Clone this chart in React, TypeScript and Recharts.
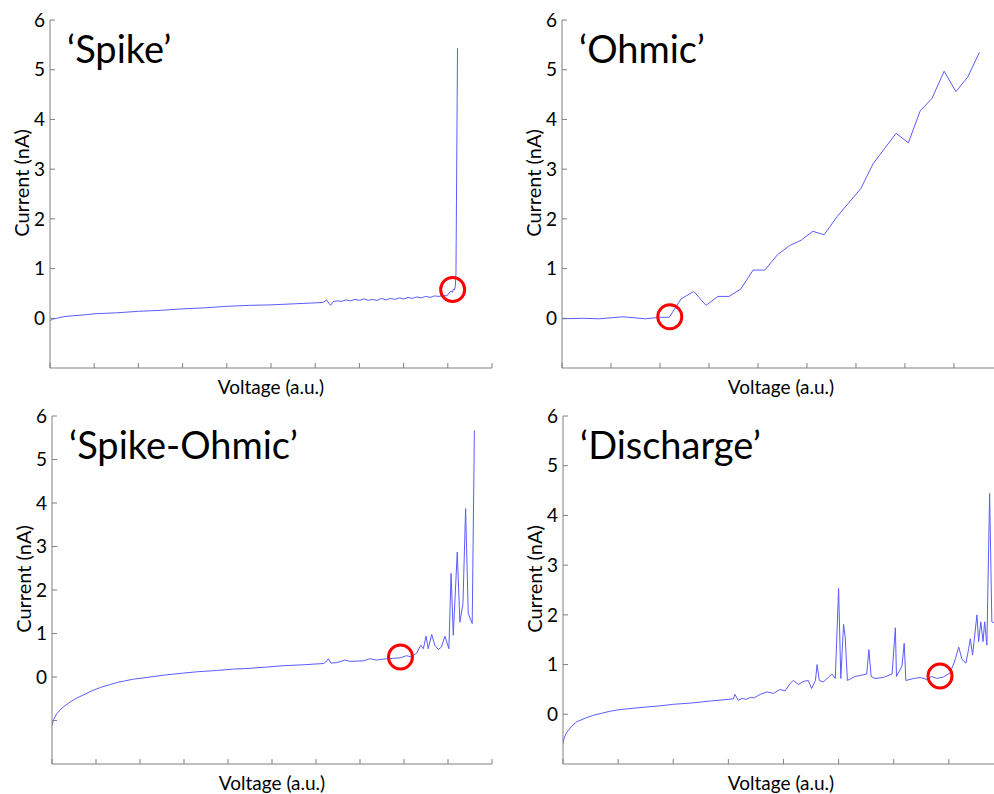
import { LineChart, Line, XAxis, YAxis, ReferenceDot, Label } from 'recharts';

const FRAME = '#808080';
const TRACE = '#5c5cff';
const FONT = 'Lato, "Open Sans", sans-serif';

// 'Spike'
const spikeX = [0, 0.05, 0.15, 0.3, 0.5, 0.8, 1.0, 1.5, 2.0, 2.5, 3.0, 3.5, 4.0, 4.5, 5.0, 5.5, 6.0, 6.18, 6.26, 6.31, 6.35, 6.41,
  6.5, 6.6, 6.7, 6.8, 6.9, 7.0, 7.1, 7.2, 7.3, 7.4, 7.5, 7.6, 7.7, 7.8, 7.9, 8.0, 8.1, 8.2, 8.3, 8.4, 8.5, 8.6, 8.7, 8.8, 8.9,
  8.98, 9.03, 9.07, 9.1, 9.13, 9.15, 9.17, 9.185, 9.22];
const spikeY = [-0.05, -0.02, 0.0, 0.03, 0.05, 0.07, 0.09, 0.11, 0.14, 0.16, 0.19, 0.21, 0.24, 0.26, 0.27, 0.29, 0.31, 0.32, 0.37, 0.30, 0.26, 0.34,
  0.35, 0.34, 0.37, 0.35, 0.38, 0.36, 0.39, 0.36, 0.38, 0.36, 0.40, 0.37, 0.40, 0.38, 0.41, 0.39, 0.42, 0.40, 0.43, 0.41, 0.44, 0.42, 0.45, 0.44, 0.46,
  0.45, 0.51, 0.55, 0.52, 0.59, 0.57, 0.64, 0.9, 5.43];

// 'Ohmic'
const ohmicX = [0, 0.42, 0.76, 1.24, 1.71, 1.99, 2.19, 2.43, 2.69, 2.94, 3.18, 3.41, 3.65, 3.90, 4.14, 4.40, 4.64, 4.88, 5.12, 5.35,
  5.61, 5.85, 6.10, 6.35, 6.58, 6.82, 7.07, 7.31, 7.55, 7.80, 8.04, 8.28, 8.52];
const ohmicY = [-0.01, 0.0, -0.01, 0.03, -0.01, 0.02, 0.02, 0.39, 0.54, 0.26, 0.44, 0.44, 0.59, 0.97, 0.97, 1.28, 1.46, 1.57, 1.75, 1.68,
  2.04, 2.32, 2.61, 3.11, 3.41, 3.72, 3.53, 4.17, 4.42, 4.97, 4.56, 4.85, 5.35];

// 'Spike-Ohmic'
const spikeOhmicX = [0, 0.04, 0.11, 0.2, 0.32, 0.42, 0.55, 0.72, 0.9, 1.10, 1.3, 1.47, 1.65, 1.85, 2.23, 2.6, 2.99, 3.3, 3.74, 4.1, 4.50,
  4.9, 5.26, 5.7, 6.17, 6.22, 6.28, 6.34,
  6.47, 6.66, 6.77, 7.07, 7.22, 7.37, 7.60, 7.91, 8.06, 8.17, 8.29, 8.38, 8.44, 8.50, 8.55, 8.63,
  8.70, 8.78, 8.85, 8.93, 9.02, 9.07, 9.12, 9.21, 9.27, 9.34, 9.40, 9.46, 9.55, 9.60];
const spikeOhmicY = [-1.11, -0.97, -0.84, -0.74, -0.64, -0.57, -0.49, -0.41, -0.32, -0.24, -0.18, -0.13, -0.09, -0.05, 0.0, 0.05, 0.09, 0.12, 0.15, 0.18, 0.20,
  0.23, 0.26, 0.28, 0.31, 0.34, 0.42, 0.32,
  0.33, 0.39, 0.36, 0.37, 0.42, 0.39, 0.42, 0.44, 0.49, 0.46, 0.55, 0.73, 0.65, 0.94, 0.65, 0.98,
  0.73, 0.63, 0.69, 0.94, 0.65, 2.38, 0.96, 2.87, 1.26, 1.69, 3.87, 1.46, 1.23, 5.67];

// 'Discharge'
const dischargeX = [0, 0.02, 0.07, 0.15, 0.25, 0.4, 0.55, 0.7, 0.85, 1.0, 1.16, 1.45, 1.76, 2.0, 2.36, 2.7, 3.09, 3.12, 3.18, 3.25, 3.32, 3.40, 3.47, 3.53, 3.58, 3.70, 3.82, 3.94,
  4.03, 4.12, 4.18, 4.27, 4.36, 4.45, 4.51, 4.58, 4.61, 4.65, 4.72, 4.88, 4.94, 5.00, 5.04, 5.09, 5.12, 5.16, 5.30, 5.51,
  5.55, 5.59, 5.66, 5.81, 5.97, 6.03, 6.05, 6.15, 6.19, 6.22, 6.36, 6.48, 6.60, 6.69, 6.78, 6.90, 7.02, 7.10, 7.18, 7.24,
  7.31, 7.36, 7.39, 7.43, 7.51, 7.54, 7.58, 7.62, 7.65, 7.69, 7.74, 7.78, 7.84, 7.91];
const dischargeY = [-0.59, -0.48, -0.36, -0.25, -0.15, -0.08, -0.02, 0.02, 0.06, 0.09, 0.11, 0.14, 0.17, 0.2, 0.23, 0.27, 0.31, 0.40, 0.28, 0.32, 0.30, 0.34, 0.33, 0.37, 0.40, 0.45, 0.42, 0.50,
  0.47, 0.62, 0.68, 0.60, 0.66, 0.68, 0.52, 0.68, 1.00, 0.68, 0.65, 0.81, 0.72, 2.53, 0.72, 1.81, 1.55, 0.68, 0.76, 0.81,
  1.30, 0.76, 0.72, 0.74, 0.81, 1.74, 0.76, 0.97, 1.43, 0.68, 0.72, 0.74, 0.70, 0.76, 0.72, 0.75, 0.83, 1.05, 1.35, 1.10,
  1.03, 1.32, 1.52, 1.19, 2.00, 1.46, 1.86, 1.46, 1.86, 1.39, 4.44, 1.86, 1.83, 1.80];

// onset markers (red circles)
const onsetSpike = { x: 9.11, y: 0.58 };
const onsetOhmic = { x: 2.2, y: 0.03 };
const onsetSpikeOhmic = { x: 7.92, y: 0.46 };
const onsetDischarge = { x: 6.84, y: 0.77 };

const ticks10 = [0, 1, 2, 3, 4, 5, 6, 7, 8, 9, 10];
const ticks8 = [0, 1, 2, 3, 4, 5, 6, 7, 8];
const ticks7 = [0, 1, 2, 3, 4, 5, 6, 7];
const yTicksTop = [0, 1, 2, 3, 4, 5, 6];
const yTicksBottomLeft = [-1, 0, 1, 2, 3, 4, 5, 6];

interface PanelProps {
  left: number;
  top: number;
  plotWidth: number;
  title: string;
  xs: number[];
  ys: number[];
  xMax: number;
  xTicks: number[];
  yMin: number;
  yTicks: number[];
  onset: { x: number; y: number };
}

function Panel({ left, top, plotWidth, title, xs, ys, xMax, xTicks, yMin, yTicks, onset }: PanelProps) {
  const data = xs.map((x, i) => ({ x, y: ys[i] }));
  const blank = () => '';
  return (
    <div style={{ position: 'absolute', left, top }}>
      <LineChart width={50 + plotWidth + 2} height={402} data={data} margin={{ top: 20, right: 2, bottom: 6, left: 0 }}>
        <XAxis
          dataKey="x"
          type="number"
          domain={[0, xMax]}
          ticks={xTicks}
          allowDataOverflow
          tickFormatter={blank}
          tickSize={-5}
          height={28}
          axisLine={{ stroke: FRAME }}
          tickLine={{ stroke: FRAME }}
        >
          <Label value="Voltage (a.u.)" position="insideBottom" offset={2} fontSize={19} fontFamily={FONT} fill="#000" />
        </XAxis>
        <XAxis
          xAxisId="t"
          orientation="top"
          type="number"
          domain={[0, xMax]}
          ticks={xTicks}
          allowDataOverflow
          tickFormatter={blank}
          tickSize={-5}
          height={0}
          axisLine={{ stroke: FRAME }}
          tickLine={{ stroke: FRAME }}
        />
        <YAxis
          type="number"
          domain={[yMin, 6]}
          ticks={yTicks}
          allowDataOverflow
          width={50}
          tickSize={-5}
          tickMargin={10}
          tickFormatter={(v: number) => (v < 0 ? '' : String(v))}
          tick={{ fill: '#000', fontSize: 19, fontFamily: FONT }}
          axisLine={{ stroke: FRAME }}
          tickLine={{ stroke: FRAME }}
        />
        <YAxis
          yAxisId="r"
          orientation="right"
          type="number"
          domain={[yMin, 6]}
          ticks={yTicks}
          allowDataOverflow
          width={0}
          tickSize={-5}
          tickFormatter={blank}
          axisLine={{ stroke: FRAME }}
          tickLine={{ stroke: FRAME }}
        />
        <Line type="linear" dataKey="y" stroke={TRACE} strokeWidth={1} dot={false} isAnimationActive={false} />
        <ReferenceDot x={onset.x} y={onset.y} r={12} fill="none" stroke="#ff0000" strokeWidth={3} />
        <text x={21} y={183} transform="rotate(-90, 21, 183)" textAnchor="middle" dominantBaseline="central" fontSize={20} fontFamily={FONT} fill="#000">
          Current (nA)
        </text>
        <text x={67} y={63} fontSize={38} fontFamily={FONT} fill="#000">
          {title}
        </text>
      </LineChart>
    </div>
  );
}

export default function App() {
  return (
    <div style={{ position: 'fixed', left: 0, top: 0, width: 994, height: 794, overflow: 'hidden', background: '#fff' }}>
      <Panel left={0} top={0} plotWidth={442} title="‘Spike’" xs={spikeX} ys={spikeY} xMax={10} xTicks={ticks10} yMin={-1} yTicks={yTicksTop} onset={onsetSpike} />
      <Panel left={512} top={0} plotWidth={438} title="‘Ohmic’" xs={ohmicX} ys={ohmicY} xMax={8.94} xTicks={ticks8} yMin={-1} yTicks={yTicksTop} onset={onsetOhmic} />
      <Panel left={2} top={396} plotWidth={440} title="‘Spike-Ohmic’" xs={spikeOhmicX} ys={spikeOhmicY} xMax={10} xTicks={ticks10} yMin={-2} yTicks={yTicksBottomLeft} onset={onsetSpikeOhmic} />
      <Panel left={513} top={396} plotWidth={436} title="‘Discharge’" xs={dischargeX} ys={dischargeY} xMax={7.91} xTicks={ticks7} yMin={-1} yTicks={yTicksTop} onset={onsetDischarge} />
    </div>
  );
}
